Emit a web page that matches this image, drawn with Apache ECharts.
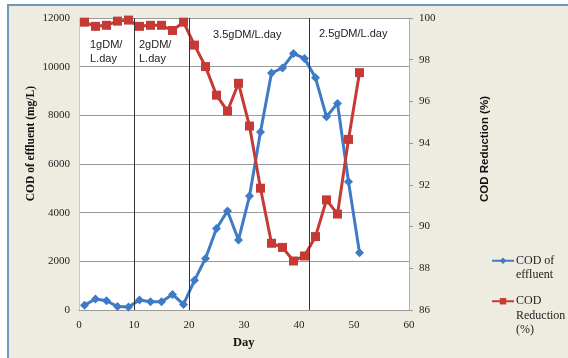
<!DOCTYPE html>
<html>
<head>
<meta charset="utf-8">
<script src="https://cdn.jsdelivr.net/npm/echarts@6/dist/echarts.min.js"></script>
<style>
  html, body { margin: 0; padding: 0; background: #fff; }
  #chart { width: 568px; height: 358px; }
</style>
</head>
<body>
<div id="chart"></div>
<script>
// Sampling days
var days = [1, 3, 5, 7, 9, 11, 13, 15, 17, 19, 21, 23, 25, 27, 29, 31, 33, 35, 37, 39, 41, 43, 45, 47, 49, 51];

// COD of effluent (mg/L)
var codEffluent = [200, 450, 380, 140, 120, 410, 340, 340, 640, 230, 1220, 2120, 3350, 4070, 2880, 4680, 7320, 9740, 9950, 10540, 10340, 9540, 7940, 8490, 5270, 2350];

// COD reduction (%)
var codReduction = [99.8, 99.6, 99.65, 99.85, 99.9, 99.6, 99.65, 99.65, 99.4, 99.8, 98.7, 97.67, 96.3, 95.54, 96.87, 94.82, 91.84, 89.2, 89.0, 88.35, 88.59, 89.52, 91.28, 90.6, 94.18, 97.38];

// Organic loading phase boundaries (day)
var phaseBounds = [10, 20, 41.8];

var blue = '#3F7BC4';
var red = '#C63A35';
var serif = '"Liberation Serif", "DejaVu Serif", serif';
var sans = '"Liberation Sans", Arial, sans-serif';

var chart = echarts.init(document.getElementById('chart'));

function pairs(xs, ys) {
  return xs.map(function (x, i) { return [x, ys[i]]; });
}

// Legend entry whose first text line sits level with the icon:
// blank lines are prepended so the wrapped label stays centred on line one.
function legendBlock(name, lines, top) {
  var pad = [];
  for (var i = 1; i < lines.length; i++) pad.push('');
  var label = pad.concat(lines).join('\n');
  return {
    orient: 'vertical',
    left: 491, top: top,
    itemWidth: 22, itemHeight: 8,
    padding: 0,
    textStyle: {
      fontFamily: serif, fontSize: 12, color: '#222', lineHeight: 14.5,
      padding: [0, 0, 0, -3]
    },
    formatter: function () { return label; },
    data: [name]
  };
}

chart.setOption({
  animation: false,
  backgroundColor: '#fff',
  grid: {
    left: 79, right: 159, top: 18, bottom: 48,
    show: true, backgroundColor: '#fff', borderWidth: 0
  },
  xAxis: {
    type: 'value', min: 0, max: 60, interval: 10,
    axisLine: { show: true, lineStyle: { color: '#9a9a9a' } },
    axisTick: { show: false },
    splitLine: { show: false },
    axisLabel: { color: '#222', fontFamily: serif, fontSize: 11, margin: 10 }
  },
  yAxis: [
    {
      type: 'value', min: 0, max: 12000, interval: 2000,
      axisLine: { show: true, lineStyle: { color: '#c8c8c8' } },
      axisTick: { show: false },
      splitLine: { show: true, lineStyle: { color: '#9a9a9a', width: 1 } },
      axisLabel: {
        color: '#222', fontFamily: serif, fontSize: 11, margin: 9,
        formatter: function (v) { return String(v); }
      }
    },
    {
      type: 'value', min: 86, max: 100, interval: 2, position: 'right',
      axisLine: { show: true, lineStyle: { color: '#b0b0b0' } },
      axisTick: { show: true, inside: false, length: 4, lineStyle: { color: '#9a9a9a' } },
      splitLine: { show: false },
      axisLabel: { color: '#222', fontFamily: serif, fontSize: 11, margin: 10 }
    }
  ],
  legend: [
    legendBlock('COD of effluent', ['COD of', 'effluent'], 239),
    legendBlock('COD Reduction (%)', ['COD', 'Reduction', '(%)'], 265)
  ],
  series: [
    {
      name: 'COD of effluent',
      type: 'line',
      yAxisIndex: 0,
      data: pairs(days, codEffluent),
      symbol: 'diamond', symbolSize: 9,
      lineStyle: { color: blue, width: 3 },
      itemStyle: { color: blue },
      z: 3,
      markLine: {
        silent: true,
        symbol: ['none', 'none'],
        label: { show: false },
        lineStyle: { color: '#333', width: 1, type: 'solid' },
        data: phaseBounds.map(function (d) { return { xAxis: d }; })
      }
    },
    {
      name: 'COD Reduction (%)',
      type: 'line',
      yAxisIndex: 1,
      data: pairs(days, codReduction),
      symbol: 'rect', symbolSize: 9,
      lineStyle: { color: red, width: 3 },
      itemStyle: { color: red },
      z: 4
    }
  ],
  graphic: [
    {
      type: 'rect', silent: true, z: -10,
      shape: { x: 8, y: 5, width: 570, height: 360 },
      style: { fill: '#EEEBE0', stroke: '#6F97C4', lineWidth: 2 }
    },
    {
      type: 'text', left: 25, top: 86, rotation: Math.PI / 2,
      style: { text: 'COD of effluent (mg/L)', fontFamily: serif, fontWeight: 'bold', fontSize: 11.5, fill: '#111' }
    },
    {
      type: 'text', left: 479, top: 96, rotation: Math.PI / 2,
      style: { text: 'COD Reduction (%)', fontFamily: sans, fontWeight: 'bold', fontSize: 11.5, fill: '#111' }
    },
    {
      type: 'text', left: 233, top: 336,
      style: { text: 'Day', fontFamily: serif, fontWeight: 'bold', fontSize: 12.5, fill: '#111' }
    },
    {
      type: 'text', left: 90, top: 38,
      style: { text: '1gDM/\nL.day', fontFamily: sans, fontSize: 11, lineHeight: 14, fill: '#222' }
    },
    {
      type: 'text', left: 139, top: 38,
      style: { text: '2gDM/\nL.day', fontFamily: sans, fontSize: 11, lineHeight: 14, fill: '#222' }
    },
    {
      type: 'text', left: 213, top: 29,
      style: { text: '3.5gDM/L.day', fontFamily: sans, fontSize: 11, fill: '#222' }
    },
    {
      type: 'text', left: 319, top: 28,
      style: { text: '2.5gDM/L.day', fontFamily: sans, fontSize: 11, fill: '#222' }
    }
  ]
});
</script>
</body>
</html>
